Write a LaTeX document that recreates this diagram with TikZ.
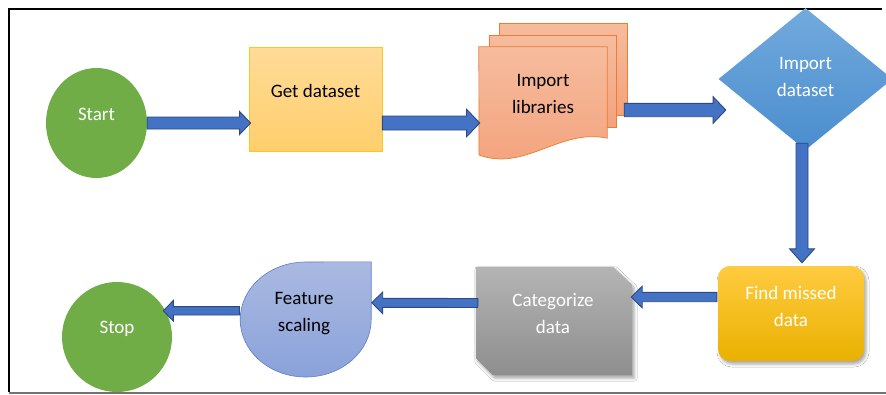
\documentclass[tikz,border=0pt]{standalone}
\usepackage{fontspec}
\setmainfont{Carlito}
\usetikzlibrary{shapes.geometric,calc,shadows.blur}
\definecolor{sgreen}{HTML}{70AD47}
\definecolor{getT}{HTML}{FFDB98}
\definecolor{getB}{HTML}{FFCF6C}
\definecolor{getBorder}{HTML}{FFC524}
\definecolor{libT}{HTML}{F6BC9E}
\definecolor{libB}{HTML}{F3A27C}
\definecolor{libBorder}{HTML}{ED7D31}
\definecolor{dsT}{HTML}{72AADD}
\definecolor{dsB}{HTML}{4A8DCE}
\definecolor{findT}{HTML}{FFCB40}
\definecolor{findM}{HTML}{FFC208}
\definecolor{findB}{HTML}{E9B100}
\definecolor{catT}{HTML}{B4B4B4}
\definecolor{catB}{HTML}{8E8E8E}
\definecolor{featT}{HTML}{AAB9E1}
\definecolor{featB}{HTML}{8AA2DA}
\definecolor{featBorder}{HTML}{5B7FCB}
\definecolor{arrowblue}{HTML}{4472C4}
\definecolor{arrowdark}{HTML}{2C4A80}
\pgfdeclarelayer{bg}
\pgfsetlayers{bg,main}
\begin{document}
\begin{tikzpicture}[x=1pt,y=-1pt,
  txtw/.style={font=\fontsize{19}{26.7}\selectfont, align=center, inner sep=0pt, text=white},
  txtb/.style={font=\fontsize{19}{26.7}\selectfont, align=center, inner sep=0pt, text=black},
  arr/.style={fill=arrowblue, draw=arrowdark, line width=0.9pt, line join=miter},
  shad/.style={blur shadow={shadow xshift=2pt, shadow yshift=-3pt, shadow blur radius=3pt, shadow opacity=35}},
  barrow/.style n args={3}{to path={let \p1=(\tikztostart), \p2=(\tikztotarget),
      \n1={veclen(\x2-\x1,\y2-\y1)}, \n2={(\x2-\x1)/\n1}, \n3={(\y2-\y1)/\n1} in
      ({\x1-#1*(\n3)},{\y1+#1*(\n2)})
      -- ({\x2-#3*(\n2)-#1*(\n3)},{\y2-#3*(\n3)+#1*(\n2)})
      -- ({\x2-#3*(\n2)-#2*(\n3)},{\y2-#3*(\n3)+#2*(\n2)})
      -- (\p2)
      -- ({\x2-#3*(\n2)+#2*(\n3)},{\y2-#3*(\n3)-#2*(\n2)})
      -- ({\x2-#3*(\n2)+#1*(\n3)},{\y2-#3*(\n3)-#1*(\n2)})
      -- ({\x1+#1*(\n3)},{\y1-#1*(\n2)}) -- cycle}}
]
\useasboundingbox (0,0) rectangle (886,394);

% nodes
\node[ellipse, fill=sgreen, minimum width=101pt, minimum height=110pt, inner sep=0pt,
      label={[txtw, yshift=9pt]center:Start}] (start) at (96.5,123) {};
\node[rectangle, draw=getBorder, line width=0.8pt, top color=getT, bottom color=getB,
      minimum width=133pt, minimum height=104pt, inner sep=0pt,
      label={[txtb, yshift=8.5pt]center:Get dataset}] (get) at (315.5,99) {};
\node[rectangle, minimum width=128pt, minimum height=91pt, inner sep=0pt,
      label={[txtb, yshift=-1.5pt]center:Import\\libraries}] (libs) at (543,92.5) {};
\node[diamond, minimum width=174pt, minimum height=142pt, inner sep=0pt, top color=dsT, bottom color=dsB,
      label={[txtw, yshift=2.3pt]center:Import\\dataset}] (ds) at (805.5,79) {};
\node[rectangle, rounded corners=12pt, minimum width=146pt, minimum height=95pt, inner sep=0pt,
      top color=findT, middle color=findM, bottom color=findB, shad,
      label={[txtw, yshift=7.3pt]center:Find missed\\data}] (find) at (791,313.5) {};
\node[rectangle, minimum width=156pt, minimum height=108pt, inner sep=0pt,
      label={[txtw, yshift=7.7pt, xshift=-1pt]center:Categorize\\data}] (cat) at (554,321) {};
\node[rectangle, minimum width=131pt, minimum height=115pt, inner sep=0pt,
      label={[txtb, yshift=5.8pt, xshift=-1.5pt]center:Feature\\scaling}] (feat) at (305.5,319.5) {};
\node[circle, fill=sgreen, minimum size=110pt, inner sep=0pt,
      label={[txtw, yshift=7.7pt]center:Stop}] (stop) at (117,337) {};

% background, frame and custom shapes behind the text
\begin{pgfonlayer}{bg}
  \fill[white] (0,0) rectangle (886,394);
  \draw[line width=1.8pt, black] (9,392) -- (9,8.7) -- (882,8.7);
  \draw[line width=1.4pt, black!55] (9,393) -- (886,393);
  \shade[top color=libT, bottom color=libB, draw=libBorder, line width=0.7pt] (499,23) rectangle (627,115);
  \shade[top color=libT, bottom color=libB, draw=libBorder, line width=0.7pt] (489,35) rectangle (616,127);
  \shade[top color=libT, bottom color=libB, draw=libBorder, line width=0.7pt]
     (libs.north west) -- (libs.north east) -- (libs.south east)
     .. controls (560,128) and (525,172) .. (479,155) -- cycle;
  \shade[top color=catT, bottom color=catB, shad]
     (cat.north west) -- ([xshift=-19pt]cat.north east) -- ([yshift=-18pt]cat.north east)
     -- (cat.south east) -- ([xshift=17pt]cat.south west) -- ([yshift=17pt]cat.south west) -- cycle;
  \shade[top color=featT, bottom color=featB, draw=featBorder, line width=0.6pt]
     (feat.north east) -- (feat.east) arc[start angle=0, end angle=-270, x radius=65.5pt, y radius=57.5pt] -- cycle;
\end{pgfonlayer}

% connectors
\draw[arr] (start.east) to[barrow={6}{11.5}{11}] ($(get.west |- start.east)+(2,0)$);
\draw[arr] (get.east |- start.east) to[barrow={7}{13.8}{13.3}] ($(libs.west |- start.east)+(1,0)$);
\draw[arr] ($(libs.east)+(17,17.5)$) to[barrow={6.7}{13.3}{12.7}] ($(ds.west)+(7.5,31)$);
\draw[arr] ($(ds.south)+(-3.5,-7)$) to[barrow={6}{12.5}{14}] ($(find.north)+(11,-3)$);
\draw[arr] ($(find.west)+(-1,-16.5)$) to[barrow={4.7}{10.8}{11}] ($(cat.east)+(-1,-24)$);
\draw[arr] ($(cat.west)+(2,-18)$) to[barrow={4.5}{10.8}{11}] ($(feat.east)+(0.5,-16.7)$);
\draw[arr] ($(feat.west)+(-0.5,-8.7)$) to[barrow={4.2}{10.3}{10}] ($(stop.center)+(46.3,-26.2)$);
\end{tikzpicture}
\end{document}
